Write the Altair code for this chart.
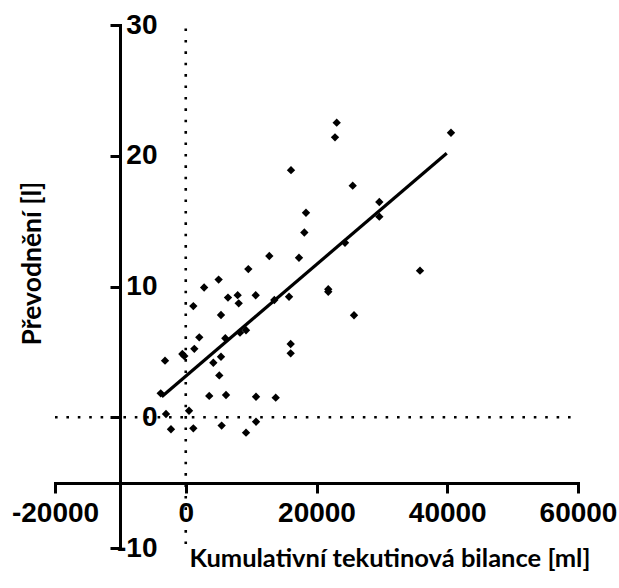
import altair as alt
import pandas as pd

# scatter values
x_vals = [16100, 18390, 18140, 12780, 17320, 9570, 5030, 2810, 6460, 7940,
          10700, 15800, 8100, 13550, 1160, 5390, 9220, 8300, 6050, 2070,
          16050, 1310, -3170, -520, -220, 5390, 4220, 5130, 16050, -3830,
          3590, 6160, 10750, 13760, 500, -3020, 1160, -2260, 5490, 10750,
          9220, 23090, 22830, 40570, 25540, 29610, 29610, 24360, 35830, 21800,
          21800, 25740]
y_vals = [18.9, 15.64, 14.13, 12.33, 12.2, 11.33, 10.53, 9.92, 9.15, 9.34,
          9.33, 9.22, 8.71, 8.97, 8.5, 7.82, 6.65, 6.47, 6.04, 6.11,
          5.6, 5.23, 4.33, 4.84, 4.68, 4.63, 4.17, 3.2, 4.89, 1.83,
          1.63, 1.70, 1.57, 1.5, 0.5, 0.25, -0.85, -0.92, -0.64, -0.34,
          -1.18, 22.53, 21.41, 21.76, 17.71, 16.46, 15.34, 13.35, 11.21, 9.79,
          9.6, 7.8]

fit_x = [-3680, 39920]
fit_y = [1.57, 20.19]

x_ticks = [-20000, 0, 20000, 40000, 60000]
y_ticks = [-10, 0, 10, 20, 30]

vline_x = [0]
vline_y = [-9.7, 30]
hline_y = [0]
hline_x = [-20000, 59000]

pts = pd.DataFrame({"x": x_vals, "y": y_vals})
fit = pd.DataFrame({"x": fit_x, "y": fit_y})
vdf = pd.DataFrame({"x": vline_x, "y": [vline_y[0]], "y2": [vline_y[1]]})
hdf = pd.DataFrame({"y": hline_y, "x": [hline_x[0]], "x2": [hline_x[1]]})

xscale = alt.Scale(domain=[-20000, 60000], nice=False, zero=False)
yscale = alt.Scale(domain=[-10, 30], nice=False, zero=False)

common = dict(
    labelFont="Liberation Sans", labelFontWeight="bold", labelFontSize=28,
    labelColor="black", labelOverlap=False, labelFlush=False,
    tickSize=10, tickWidth=3, tickColor="black",
    domainWidth=3, domainColor="black", domainCap="square", grid=False,
    titleFont="Lato", titleFontWeight="bold", titleColor="black",
    labelExpr="'' + datum.value",
)

xaxis = alt.Axis(values=x_ticks, offset=-65, labelPadding=6.5,
                 title="Kumulativní tekutinová bilance [ml]", titleFontSize=25.5,
                 titleX=334.5, titleY=83.7, titleAlign="center",
                 titleBaseline="alphabetic", **common)
yaxis = alt.Axis(values=y_ticks, offset=-65, labelPadding=-47, labelAlign="right",
                 labelBaseline="middle",
                 title="Převodnění [l]", titleFontSize=26.5, titleAngle=-90,
                 titleX=-79.3, titleY=238, titleAlign="center",
                 titleBaseline="alphabetic", **common)

X = alt.X("x:Q", scale=xscale, axis=xaxis)
Y = alt.Y("y:Q", scale=yscale, axis=yaxis)

dots = dict(color="black", strokeWidth=2.6, strokeDash=[2.6, 8.8], strokeCap="butt")

hline = alt.Chart(hdf).mark_rule(**dots).encode(x=X, x2="x2:Q", y=Y)
vline = alt.Chart(vdf).mark_rule(**dots).encode(x=X, y=Y, y2="y2:Q")
line = alt.Chart(fit).mark_line(color="black", strokeWidth=3.2).encode(x=X, y=Y)
points = alt.Chart(pts).mark_point(shape="diamond", filled=True, size=70,
                                   color="black", opacity=1).encode(x=X, y=Y)

chart = alt.layer(hline, vline, line, points).properties(
    width=523, height=523,
    autosize=alt.AutoSizeParams(type="none"),
    padding={"left": 55, "top": 25, "right": 41, "bottom": 40},
    background="white",
).configure_view(stroke=None)

chart.save("out.html", embed_options={"renderer": "svg", "actions": False})
